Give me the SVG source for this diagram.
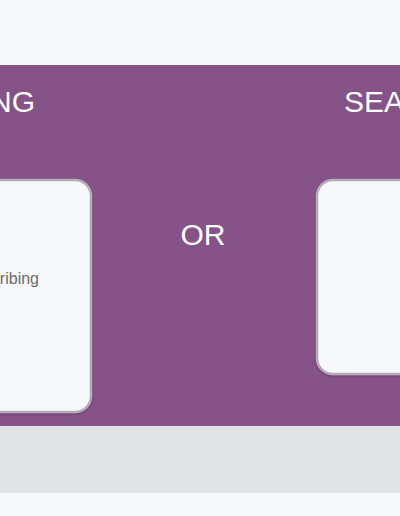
<svg xmlns="http://www.w3.org/2000/svg" width="400" height="516" viewBox="0 0 400 516">
<defs>
<style>
.title{font-family:"Liberation Sans",Arial,sans-serif;font-size:30px;fill:#ffffff}
.card{fill:#f7f8fa;stroke:#b3abb7;stroke-width:2.5}
.label{font-family:"Liberation Sans",Arial,sans-serif;font-size:16px;fill:#6b6b6f}
</style>
<filter id="sh" x="-10%" y="-10%" width="120%" height="120%">
<feDropShadow dx="0" dy="1" stdDeviation="1" flood-color="#3a1f3c" flood-opacity="0.35"/>
</filter>
</defs>
<rect x="0" y="0" width="400" height="516" fill="#f7f8fa"/>
<rect x="0" y="65" width="400" height="361" fill="#855388"/>
<rect x="0" y="426" width="400" height="67" fill="#e2e3e5"/>
<g id="left-heading"><text class="title" x="35" y="112" text-anchor="end">NG</text></g>
<g id="right-heading"><text class="title" x="344" y="112">SEA</text></g>
<g id="or"><text class="title" x="203" y="245" text-anchor="middle">OR</text></g>
<g id="left-card">
<rect class="card" filter="url(#sh)" x="-30" y="180" width="121" height="232" rx="16"/>
<text class="label" x="39" y="284" text-anchor="end">ribing</text>
</g>
<g id="right-card">
<rect class="card" filter="url(#sh)" x="317" y="180" width="120" height="194" rx="16"/>
</g>
<g id="connectors"></g>
</svg>
